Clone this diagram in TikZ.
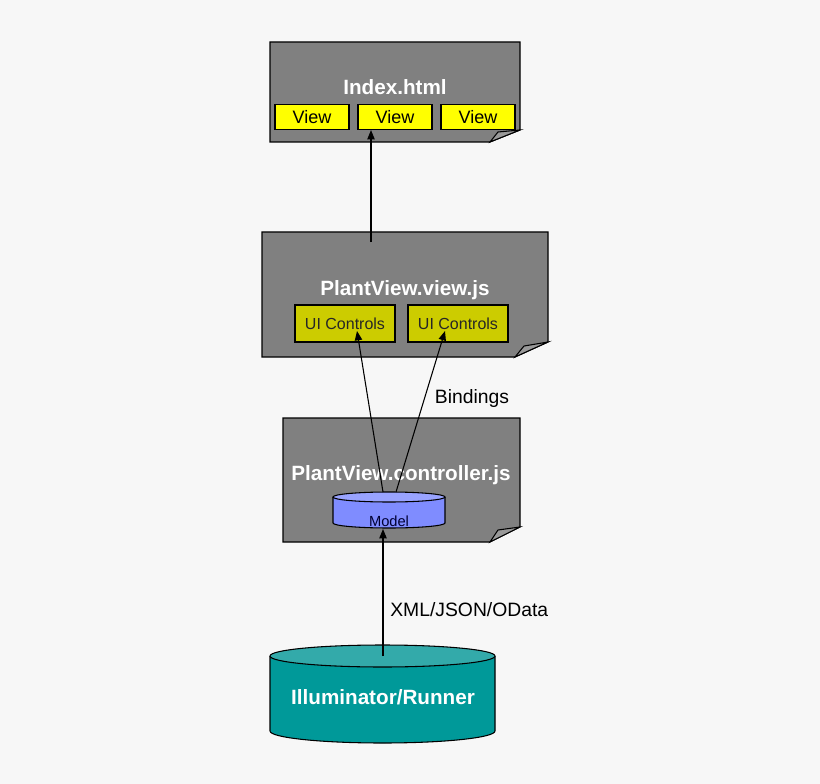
\documentclass[tikz,border=0pt]{standalone}
\usepackage{fontspec}
\setmainfont{Liberation Sans}
\usetikzlibrary{arrows.meta,shapes.geometric}
\definecolor{bg}{HTML}{F7F7F7}
\definecolor{pagegray}{HTML}{808080}
\definecolor{foldgray}{HTML}{999999}
\definecolor{viewy}{HTML}{FFFF00}
\definecolor{uiy}{HTML}{CCCC00}
\definecolor{modelb}{HTML}{7F8CFF}
\definecolor{modelt}{HTML}{99A3FF}
\definecolor{tealb}{HTML}{009999}
\definecolor{tealt}{HTML}{33AAAA}
\begin{document}
\begin{tikzpicture}[x=0.75pt,y=-0.75pt,
  page/.style={fill=pagegray,draw=black,line width=0.8pt},
  fold/.style={fill=foldgray,draw=black,line width=0.8pt},
  title/.style={text=white,font=\bfseries\fontsize{15.5}{17}\selectfont},
  vbox/.style={draw=black,line width=0.8pt,fill=viewy,minimum width=74*0.75pt,minimum height=25*0.75pt,inner sep=0pt,font=\fontsize{13.5}{15}\selectfont},
  ubox/.style={draw=black,line width=0.8pt,fill=uiy,minimum width=100*0.75pt,minimum height=37*0.75pt,inner sep=0pt,font=\fontsize{12}{13}\selectfont,text=black!85},
  lbl/.style={font=\fontsize{14.5}{16}\selectfont},
  arr/.style={-{Triangle[length=7pt,width=5.5pt]},line width=0.8pt}]
\useasboundingbox (0,0) rectangle (820,784);
\fill[bg] (0,0) rectangle (820,784);
% Index.html
\draw[page] (270,42) -- (520,42) -- (520,130) -- (490,142) -- (270,142) -- cycle;
\draw[fold] (490,142) -- (498,132) -- (520,130) -- cycle;
\node[title] (idx) at (395,87) {Index.html};
\node[vbox] (v1) at (312,117) {View};
\node[vbox] (v2) at (395,117) {View};
\node[vbox] (v3) at (478,117) {View};
% PlantView.view.js
\draw[page] (262,232) -- (548,232) -- (548,342) -- (515,357) -- (262,357) -- cycle;
\draw[fold] (515,357) -- (524,346) -- (548,342) -- cycle;
\node[title] (pv) at (405,290) {PlantView.view.js};
\node[ubox] (u1) at (345,323.5) {UI Controls};
\node[ubox] (u2) at (458,323.5) {UI Controls};
% controller
\draw[page] (283,418) -- (520,418) -- (520,527) -- (490,542) -- (283,542) -- cycle;
\draw[fold] (490,542) -- (498,530) -- (520,527) -- cycle;
\node[title] (pc) at (401,475) {PlantView.controller.js};
% Model cylinder
\fill[modelb,draw=black,line width=0.8pt] (333,497) -- (333,523) arc[start angle=180,end angle=0,x radius=56,y radius=5] -- (445,497);
\draw[fill=modelt,line width=0.8pt] (389,497) ellipse[x radius=56,y radius=5];
\node[font=\fontsize{11}{12}\selectfont,text=black!80!blue] (model) at (389,521) {Model};
\coordinate (mtop1) at (383,492);
\coordinate (mtop2) at (396,492);
\coordinate (mbot) at (383,529);
% Illuminator
\fill[tealb,draw=black,line width=0.8pt] (270,656) -- (270,731) arc[start angle=180,end angle=0,x radius=112.5,y radius=12] -- (495,656);
\draw[fill=tealt,line width=0.8pt] (382.5,656) ellipse[x radius=112.5,y radius=11];
\node[title] (ill) at (383,697) {Illuminator/Runner};
\coordinate (itop) at (383,656);
\coordinate (pvtop) at (371,242);
% arrows
\draw[arr] (pvtop) -- (v2.south -| pvtop);
\draw[arr] (mtop1) -- (357,331);
\draw[arr] (mtop2) -- (445,331);
\draw[arr] (itop) -- (mbot);
\node[lbl] (bind) at (472,398) {Bindings};
\node[lbl,anchor=west,inner sep=0pt] (xml) at (390,610) {XML/JSON/OData};
\end{tikzpicture}
\end{document}
